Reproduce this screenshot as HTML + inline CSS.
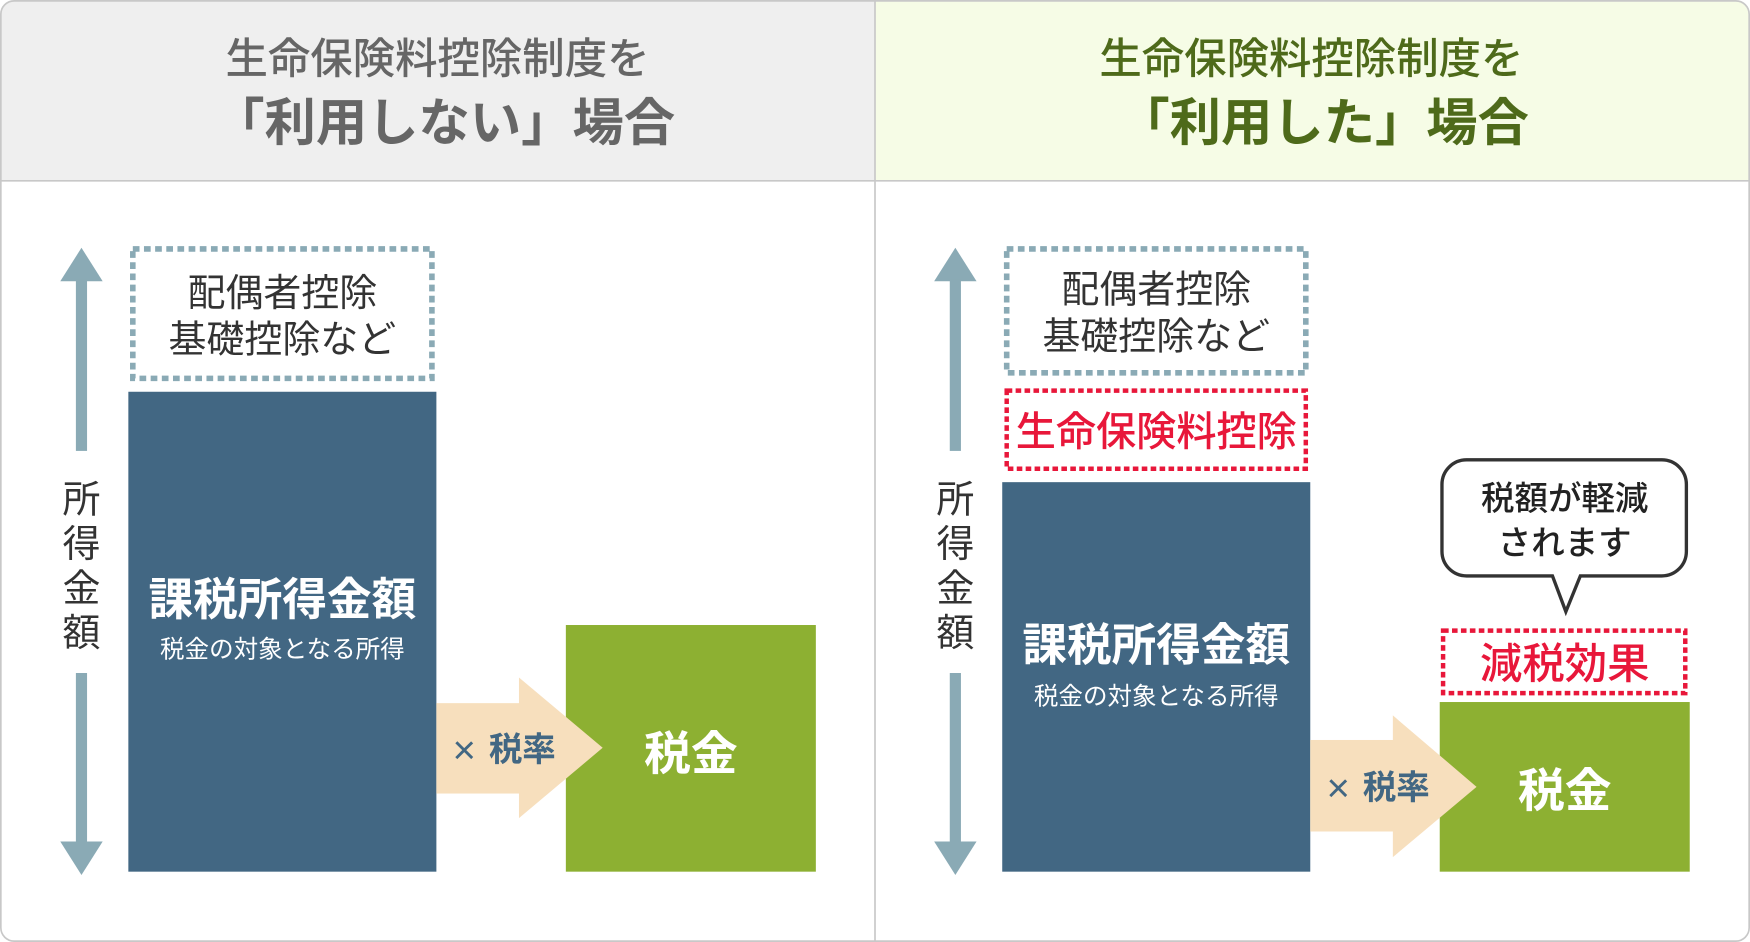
<!DOCTYPE html>
<html><head><meta charset="utf-8"><style>
html,body{margin:0;padding:0;background:#fff;}
svg{display:block;}
text{font-family:"Liberation Sans","Noto Sans CJK JP",sans-serif;}
</style></head><body>
<svg width="1750" height="942" viewBox="0 0 1568 844" xmlns="http://www.w3.org/2000/svg">
<defs><clipPath id="c"><rect x="0.5" y="0.5" width="1567" height="843" rx="12"/></clipPath></defs>
<g clip-path="url(#c)">
<rect x="0" y="0" width="1568" height="844" fill="#fff"/>
<rect x="0" y="0" width="784" height="162" fill="#efefef"/>
<rect x="784" y="0" width="784" height="162" fill="#f6fce6"/>
<line x1="0" y1="162" x2="1568" y2="162" stroke="#c8c8c8" stroke-width="1.5"/>
<line x1="784" y1="0" x2="784" y2="844" stroke="#c8c8c8" stroke-width="1.5"/>
</g>
<rect x="0.75" y="0.75" width="1566.5" height="842.5" rx="12" fill="none" stroke="#c8c8c8" stroke-width="1.5"/>

<text x="392" y="66" font-size="38" fill="#666" text-anchor="middle" font-weight="500">生命保険料控除制度を</text>
<text x="398" y="126" font-size="46" fill="#666" text-anchor="middle" font-weight="bold">「利用しない」場合</text>
<text x="1175" y="66" font-size="38" fill="#4e6a1a" text-anchor="middle" font-weight="500">生命保険料控除制度を</text>
<text x="1186" y="126" font-size="46" fill="#4e6a1a" text-anchor="middle" font-weight="bold">「利用した」場合</text>

<!-- LEFT -->
<g id="axis">
<polygon points="54,252 73,222 92,252" fill="#8aaab5"/>
<rect x="68" y="250" width="10" height="154" fill="#8aaab5"/>
<rect x="68" y="603" width="10" height="153" fill="#8aaab5"/>
<polygon points="54,754 73,784 92,754" fill="#8aaab5"/>
<text x="73" y="459" font-size="34" fill="#333" text-anchor="middle">所</text>
<text x="73" y="499" font-size="34" fill="#333" text-anchor="middle">得</text>
<text x="73" y="539" font-size="34" fill="#333" text-anchor="middle">金</text>
<text x="73" y="579" font-size="34" fill="#333" text-anchor="middle">額</text>
</g>
<rect x="119" y="223" width="268" height="116" fill="none" stroke="#8aaab5" stroke-width="5" stroke-dasharray="6,4"/>
<text x="253" y="274" font-size="34" fill="#333" text-anchor="middle">配偶者控除</text>
<text x="253" y="316" font-size="34" fill="#333" text-anchor="middle">基礎控除など</text>
<rect x="115" y="351" width="276" height="430" fill="#426783"/>
<text x="253" y="551" font-size="40" fill="#fff" text-anchor="middle" font-weight="bold">課税所得金額</text>
<text x="253" y="589" font-size="22" fill="#fff" text-anchor="middle">税金の対象となる所得</text>
<rect x="507" y="560" width="224" height="221" fill="#8db032"/>
<rect x="391" y="630" width="75" height="81" fill="#f7dfbd"/>
<polygon points="465,607 540,670 465,733" fill="#f7dfbd"/>
<text x="416" y="684" font-size="36" fill="#426783" text-anchor="middle">×</text>
<text x="468" y="682" font-size="30" fill="#426783" text-anchor="middle" font-weight="bold">税率</text>
<text x="619" y="690" font-size="42" fill="#fff" text-anchor="middle" font-weight="bold">税金</text>

<!-- RIGHT -->
<use href="#axis" x="783"/>
<rect x="902" y="223" width="268" height="111" fill="none" stroke="#8aaab5" stroke-width="5" stroke-dasharray="6,4"/>
<text x="1036" y="271" font-size="34" fill="#333" text-anchor="middle">配偶者控除</text>
<text x="1036" y="313" font-size="34" fill="#333" text-anchor="middle">基礎控除など</text>
<rect x="902" y="350" width="268" height="70" fill="none" stroke="#e8173a" stroke-width="4" stroke-dasharray="5,3"/>
<text x="1036" y="399" font-size="36" fill="#e8173a" text-anchor="middle" font-weight="500">生命保険料控除</text>
<rect x="898" y="432" width="276" height="349" fill="#426783"/>
<text x="1036" y="592" font-size="40" fill="#fff" text-anchor="middle" font-weight="bold">課税所得金額</text>
<text x="1036" y="631" font-size="22" fill="#fff" text-anchor="middle">税金の対象となる所得</text>
<rect x="1290" y="629" width="224" height="152" fill="#8db032"/>
<rect x="1174" y="663" width="75" height="82" fill="#f7dfbd"/>
<polygon points="1248,641 1323,705 1248,768" fill="#f7dfbd"/>
<text x="1199" y="718" font-size="36" fill="#426783" text-anchor="middle">×</text>
<text x="1251" y="716" font-size="30" fill="#426783" text-anchor="middle" font-weight="bold">税率</text>
<text x="1402" y="723" font-size="42" fill="#fff" text-anchor="middle" font-weight="bold">税金</text>
<rect x="1293" y="565" width="217" height="56" fill="none" stroke="#e8173a" stroke-width="4" stroke-dasharray="5,3"/>
<text x="1402" y="608" font-size="38" fill="#e8173a" text-anchor="middle" font-weight="500">減税効果</text>
<path d="M1314,412 H1489 A22,22 0 0 1 1511,434 V494 A22,22 0 0 1 1489,516 H1416 L1403,548 L1391,516 H1314 A22,22 0 0 1 1292,494 V434 A22,22 0 0 1 1314,412 Z" fill="#fff" stroke="#333" stroke-width="3"/>
<text x="1402" y="457" font-size="30" fill="#222" text-anchor="middle" font-weight="500">税額が軽減</text>
<text x="1402" y="497" font-size="30" fill="#222" text-anchor="middle" font-weight="500">されます</text>
</svg>
</body></html>
